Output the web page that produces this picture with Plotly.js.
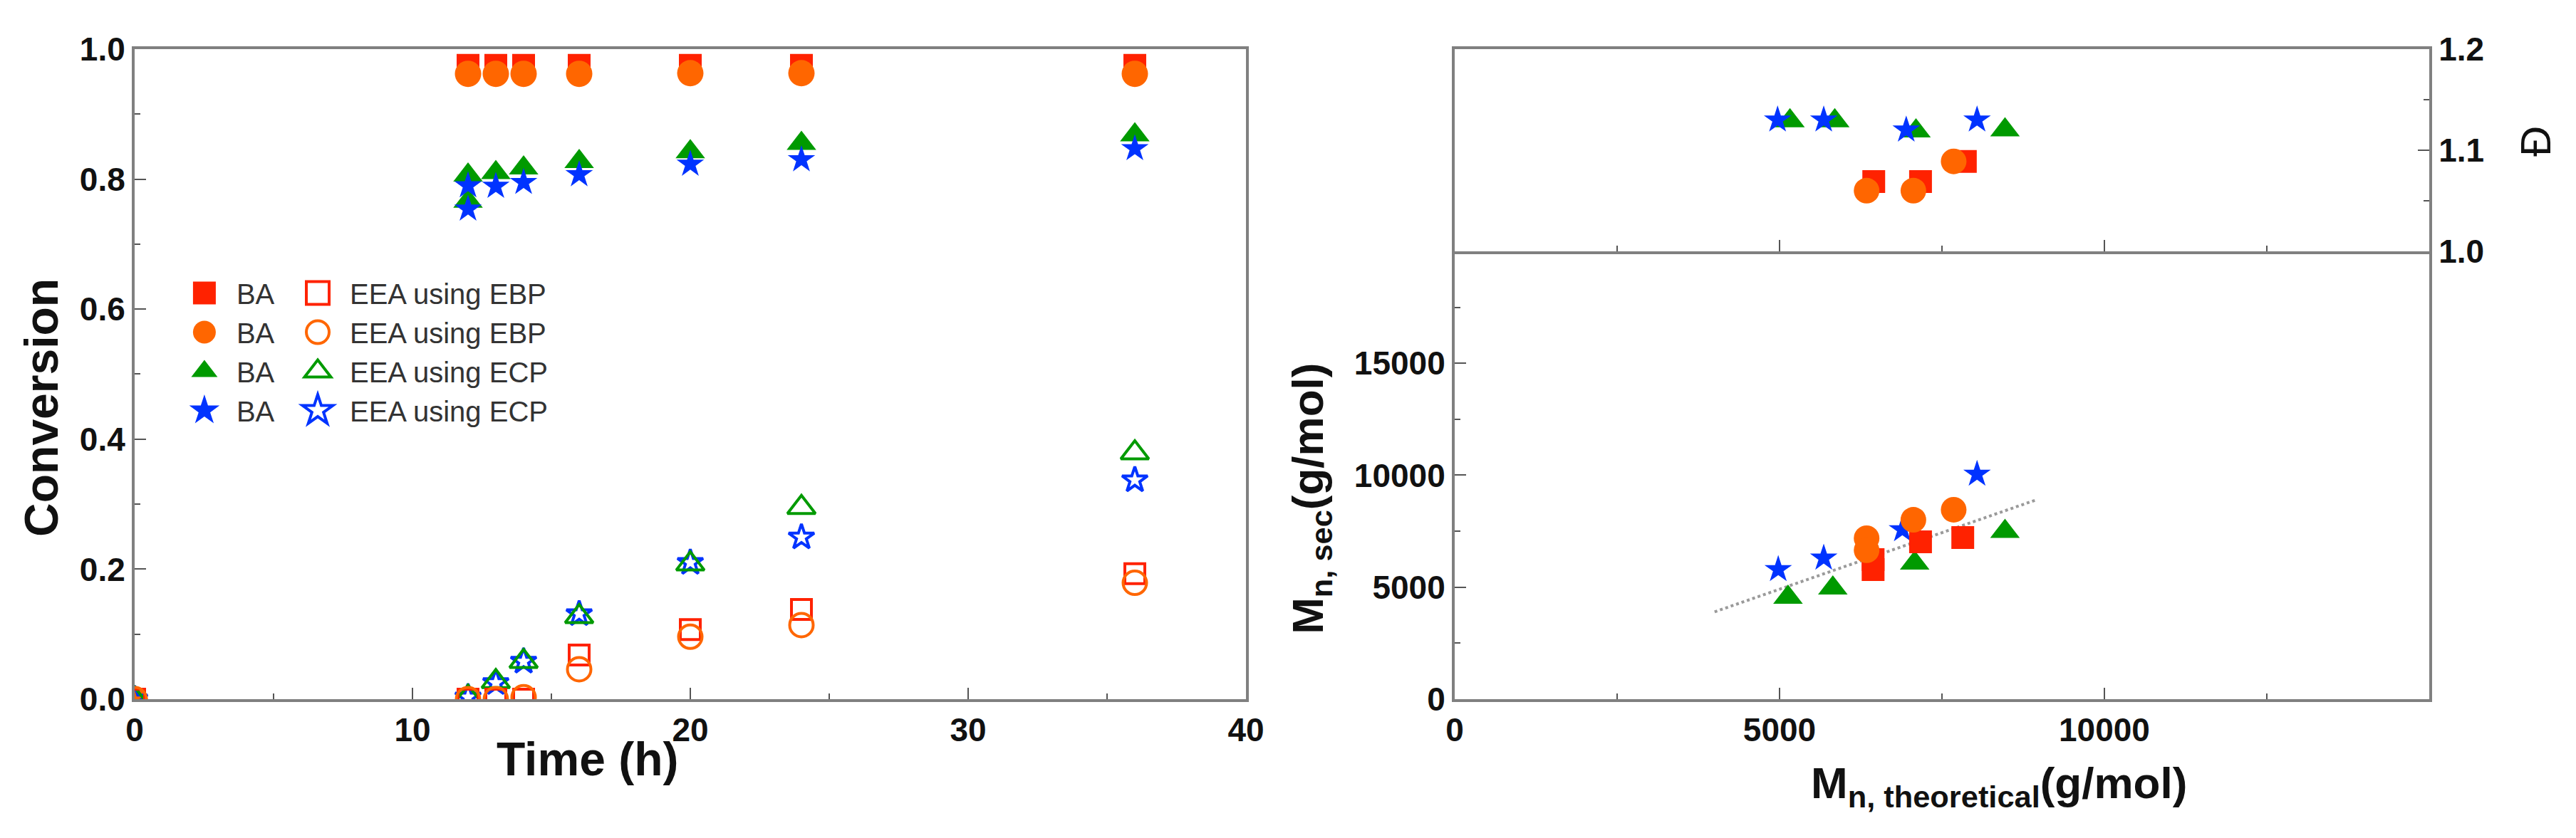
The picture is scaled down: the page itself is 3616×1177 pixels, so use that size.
<!DOCTYPE html>
<html>
<head>
<meta charset="utf-8">
<script src="https://cdn.plot.ly/plotly-3.0.1.min.js"></script>
<style>
  html, body { margin: 0; padding: 0; background: #fff; }
  #plot { width: 3616px; height: 1177px; }
</style>
</head>
<body>
<div id="plot"></div>
<script>
// ---- left panel: conversion vs time ----
const timeA = [0, 12, 13, 14, 16, 20, 24, 36];
const timeB = [0, 12, 12, 13, 14, 16, 20, 24, 36];

const baEbpSq = [0, 0.975, 0.975, 0.975, 0.975, 0.975, 0.975, 0.975];
const baEbpCi = [0, 0.962, 0.962, 0.962, 0.962, 0.963, 0.963, 0.962];
const baEcpTri = [0, 0.806, 0.766, 0.81, 0.817, 0.827, 0.842, 0.855, 0.868];
const baEcpStar = [0, 0.79, 0.754, 0.789, 0.795, 0.807, 0.823, 0.83, 0.847];

const eeaEbpSq = [0, 0, 0, 0, 0.068, 0.107, 0.138, 0.193];
const eeaEbpCi = [0, 0, 0, 0.003, 0.046, 0.096, 0.114, 0.179];
const eeaEcpTri = [0, 0.003, 0.027, 0.058, 0.127, 0.208, 0.295, 0.379];
const eeaEcpStar = [0, 0.003, 0.025, 0.058, 0.131, 0.21, 0.249, 0.337];

const baLabel = "BA";
const eeaLabels = ["EEA using EBP", "EEA using EBP", "EEA using ECP", "EEA using ECP"];

// ---- right panel: dispersity (top) and Mn,sec (bottom) vs Mn,theoretical ----
const dSqX = [6450, 7170, 7860];
const dSqY = [1.069, 1.069, 1.089];
const dCiX = [6340, 7060, 7680];
const dCiY = [1.060, 1.060, 1.089];
const dTriX = [5160, 5850, 7100, 8470];
const dTriY = [1.129, 1.129, 1.119, 1.120];
const dStarX = [4970, 5680, 6950, 8040];
const dStarY = [1.130, 1.130, 1.120, 1.130];

const mnSqX = [6440, 6440, 7170, 7820];
const mnSqY = [5790, 6230, 7030, 7220];
const mnCiX = [6340, 6340, 7060, 7680];
const mnCiY = [7190, 6650, 8010, 8460];
const mnTriX = [5130, 5820, 7080, 8470];
const mnTriY = [4550, 4960, 6070, 7490];
const mnStarX = [4980, 5680, 6890, 8040];
const mnStarY = [5790, 6300, 7570, 10050];

const fitX = [4000, 8950];
const fitY = [3900, 8900];

const RED = "#ff2200", ORANGE = "#ff6600", GREEN = "#009a00", BLUE = "#0033ff";
const FONT = "Liberation Sans, Arial, sans-serif";
const AXC = "#808080";

// marker sizes
const SQ = 32, CI = 37, TRI = 36, STAR = 29;

function filled(x, y, sym, col, size, xa, ya, extra) {
    return Object.assign({
        x: x, y: y, xaxis: xa, yaxis: ya,
        type: "scatter", mode: "markers",
        marker: { symbol: sym, color: col, size: size, line: { width: 0 } },
        showlegend: false, hoverinfo: "skip"
    }, extra || {});
}

function open(x, y, sym, col, size, extra) {
    return Object.assign({
        x: x, y: y, xaxis: "x", yaxis: "y",
        type: "scatter", mode: "markers",
        marker: { symbol: sym + "-open", color: col, size: size, line: { width: 4, color: col } },
        hoverinfo: "skip"
    }, extra || {});
}

const data = [
    // left, filled BA (stacking order as in the figure)
    filled(timeB, baEcpTri, "triangle-up", GREEN, TRI, "x", "y", { name: baLabel, showlegend: true, legend: "legend", legendrank: 3 }),
    filled(timeB, baEcpStar, "star", BLUE, STAR, "x", "y", { name: baLabel, showlegend: true, legend: "legend", legendrank: 4 }),
    filled(timeA, baEbpSq, "square", RED, SQ, "x", "y", { name: baLabel, showlegend: true, legend: "legend", legendrank: 1 }),
    filled(timeA, baEbpCi, "circle", ORANGE, CI, "x", "y", { name: baLabel, showlegend: true, legend: "legend", legendrank: 2 }),
    // left, open EEA
    open(timeA, eeaEcpStar, "star", BLUE, 27, { name: eeaLabels[3], legend: "legend2", legendrank: 4 }),
    open(timeA, eeaEcpTri, "triangle-up", GREEN, 34, { name: eeaLabels[2], legend: "legend2", legendrank: 3 }),
    open(timeA, eeaEbpSq, "square", RED, 28, { name: eeaLabels[0], legend: "legend2", legendrank: 1 }),
    open(timeA, eeaEbpCi, "circle", ORANGE, 33, { name: eeaLabels[1], legend: "legend2", legendrank: 2 }),
    // right bottom: Mn,sec
    {
        x: fitX, y: fitY, xaxis: "x2", yaxis: "y2", type: "scatter", mode: "lines",
        line: { color: "#9a9a9a", width: 4, dash: "dot" }, showlegend: false, hoverinfo: "skip"
    },
    filled(mnTriX, mnTriY, "triangle-up", GREEN, TRI, "x2", "y2"),
    filled(mnStarX, mnStarY, "star", BLUE, STAR, "x2", "y2"),
    filled(mnSqX, mnSqY, "square", RED, SQ, "x2", "y2"),
    filled(mnCiX, mnCiY, "circle", ORANGE, 36, "x2", "y2"),
    // right top: dispersity
    filled(dTriX, dTriY, "triangle-up", GREEN, TRI, "x3", "y3"),
    filled(dStarX, dStarY, "star", BLUE, STAR, "x3", "y3"),
    filled(dSqX, dSqY, "square", RED, SQ, "x3", "y3"),
    filled(dCiX, dCiY, "circle", ORANGE, 36, "x3", "y3")
];

const tickFont = { family: FONT, size: 46, color: "#111", weight: "bold" };
const minorTicks = { ticks: "inside", ticklen: 8, tickwidth: 2, tickcolor: "#555" };

function axis(opts) {
    return Object.assign({
        showgrid: false, zeroline: false,
        showline: true, linecolor: AXC, linewidth: 4, mirror: true,
        ticks: "inside", ticklen: 16, tickwidth: 2, tickcolor: "#555",
        tickfont: tickFont, fixedrange: true
    }, opts);
}

const titleFont = { family: FONT, size: 66, color: "#111", weight: "bold" };
const titleFont2 = { family: FONT, size: 62, color: "#111", weight: "bold" };

const layout = {
    width: 3616, height: 1177,
    margin: { l: 0, r: 0, t: 0, b: 0 },
    paper_bgcolor: "#ffffff", plot_bgcolor: "#ffffff",
    font: { family: FONT, color: "#111" },
    showlegend: true,
    xaxis: axis({
        domain: [0.05227, 0.48368], range: [0, 40], anchor: "y",
        dtick: 10, tick0: 0,
        minor: Object.assign({ dtick: 5 }, minorTicks)
    }),
    yaxis: axis({
        domain: [0.16568, 0.94138], range: [0, 1], anchor: "x",
        dtick: 0.2, tick0: 0, tickformat: ".1f",
        minor: Object.assign({ dtick: 0.1 }, minorTicks)
    }),
    xaxis2: axis({
        domain: [0.56471, 0.94303], range: [0, 15000], anchor: "y2", mirror: false,
        tickmode: "array", tickvals: [0, 5000, 10000], tickformat: "d",
        minor: Object.assign({ dtick: 2500, tick0: 0 }, minorTicks)
    }),
    yaxis2: axis({
        domain: [0.16568, 0.70008], range: [0, 20000], anchor: "x2",
        tickmode: "array", tickvals: [0, 5000, 10000, 15000], tickformat: "d",
        minor: Object.assign({ dtick: 2500, tick0: 0 }, minorTicks)
    }),
    xaxis3: axis({
        domain: [0.56471, 0.94303], range: [0, 15000], anchor: "y3", matches: "x2",
        tickmode: "array", tickvals: [0, 5000, 10000], showticklabels: false,
        minor: Object.assign({ dtick: 2500, tick0: 0 }, minorTicks)
    }),
    yaxis3: axis({
        domain: [0.70008, 0.94138], range: [1.0, 1.2], anchor: "x3", side: "right",
        dtick: 0.1, tick0: 1.0, tickformat: ".1f",
        minor: Object.assign({ dtick: 0.05 }, minorTicks)
    }),
    legend: {
        x: 0.0669, y: 0.678, xanchor: "left", yanchor: "top",
        bgcolor: "rgba(0,0,0,0)", borderwidth: 0,
        font: { family: FONT, size: 40, color: "#333" },
        itemwidth: 80, tracegroupgap: 0, traceorder: "normal"
    },
    legend2: {
        x: 0.1109, y: 0.678, xanchor: "left", yanchor: "top",
        bgcolor: "rgba(0,0,0,0)", borderwidth: 0,
        font: { family: FONT, size: 40, color: "#333" },
        itemwidth: 80, tracegroupgap: 0, traceorder: "normal"
    },
    annotations: [
        { text: "Conversion", xref: "paper", yref: "paper", x: 0.0160, y: 0.514,
          xanchor: "center", yanchor: "middle", textangle: -90, showarrow: false, font: titleFont },
        { text: "Time (h)", xref: "paper", yref: "paper", x: 0.2279, y: 0.0943,
          xanchor: "center", yanchor: "middle", showarrow: false, font: titleFont },
        { text: "M<sub>n, sec</sub>(g/mol)", xref: "paper", yref: "paper", x: 0.509, y: 0.405,
          xanchor: "center", yanchor: "middle", textangle: -90, showarrow: false, font: titleFont2 },
        { text: "M<sub>n, theoretical</sub>(g/mol)", xref: "paper", yref: "paper", x: 0.776, y: 0.097,
          xanchor: "center", yanchor: "top", showarrow: false, font: titleFont2 },
        { text: "Đ", xref: "paper", yref: "paper", x: 0.9845, y: 0.8318,
          xanchor: "center", yanchor: "middle", textangle: -90, showarrow: false,
          font: { family: FONT, size: 60, color: "#111" } }
    ]
};

Plotly.newPlot("plot", data, layout, { staticPlot: true, displayModeBar: false }).then(function(gd) {
    // plotly caps legend symbols at 16px; the figure's legend symbols are about twice that
    gd.querySelectorAll(".legendpoints path").forEach(function(p) {
        const t = p.getAttribute("transform") || "";
        p.setAttribute("transform", t + " scale(2)");
        const sw = parseFloat(p.style.strokeWidth);
        if (sw) p.style.strokeWidth = (sw / 2) + "px";
    });
});
</script>
</body>
</html>
